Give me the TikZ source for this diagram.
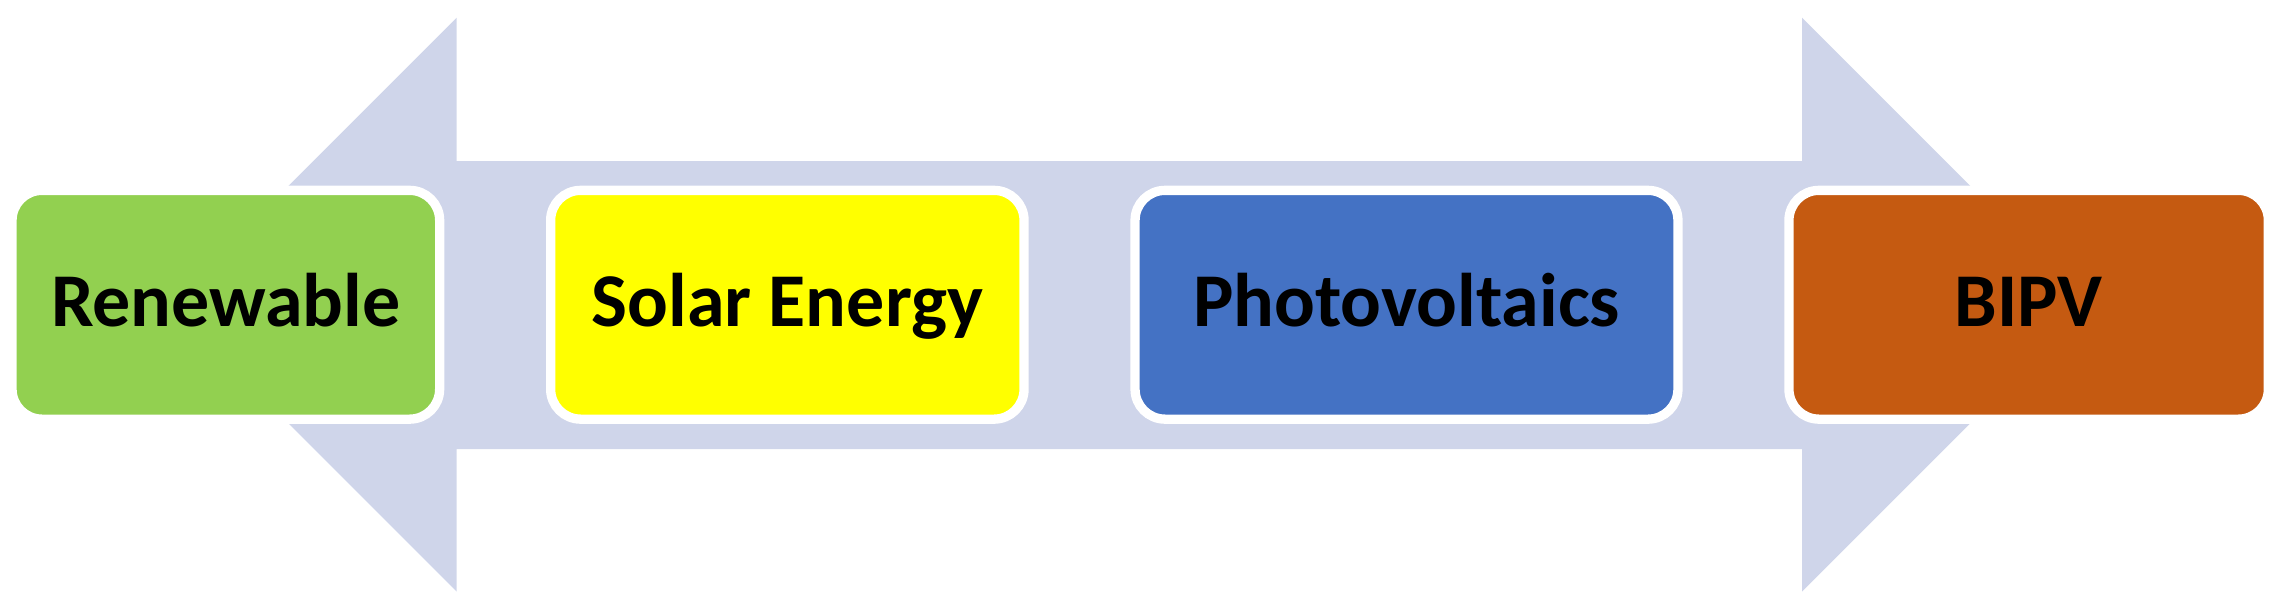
\documentclass[tikz,border=0pt]{standalone}
\usepackage{fontspec}
\setmainfont{Carlito}
\usetikzlibrary{positioning}
\definecolor{arrowgray}{HTML}{CFD5EA}
\definecolor{renewgreen}{HTML}{92D050}
\definecolor{solaryellow}{HTML}{FFFF00}
\definecolor{pvblue}{HTML}{4472C4}
\definecolor{bipvorange}{HTML}{C55A11}
\begin{document}
\begin{tikzpicture}[x=1pt, y=-1pt,
	box/.style={draw=white, line width=9.3pt, rounded corners=30pt, outer sep=0pt, minimum height=228.8pt, text height=43.5pt, text depth=0pt, text=black, font=\fontsize{76}{82}\selectfont\bfseries}]
		\useasboundingbox (0,0) rectangle (2281,614);
		\fill[arrowgray] (169.7,304.6) -- (456.7,17.7) -- (456.7,161) -- (1802,161) -- (1802,17.7) -- (2089,304.6) -- (1802,591.5) -- (1802,449) -- (456.7,449) -- (456.7,591.5) -- cycle;
		\node[box, fill=renewgreen, minimum width=427.6pt] (renew) at (225.85,304.75) {Renewable};
		\node[box, fill=solaryellow, minimum width=473.4pt, right=111pt of renew] (solar) {Solar Energy};
		\node[box, fill=pvblue, minimum width=542.9pt, right=111pt of solar] (pv) {Photovoltaics};
		\node[box, fill=bipvorange, minimum width=479.4pt, right=111pt of pv] (bipv) {BIPV};
		\end{tikzpicture}
\end{document}
